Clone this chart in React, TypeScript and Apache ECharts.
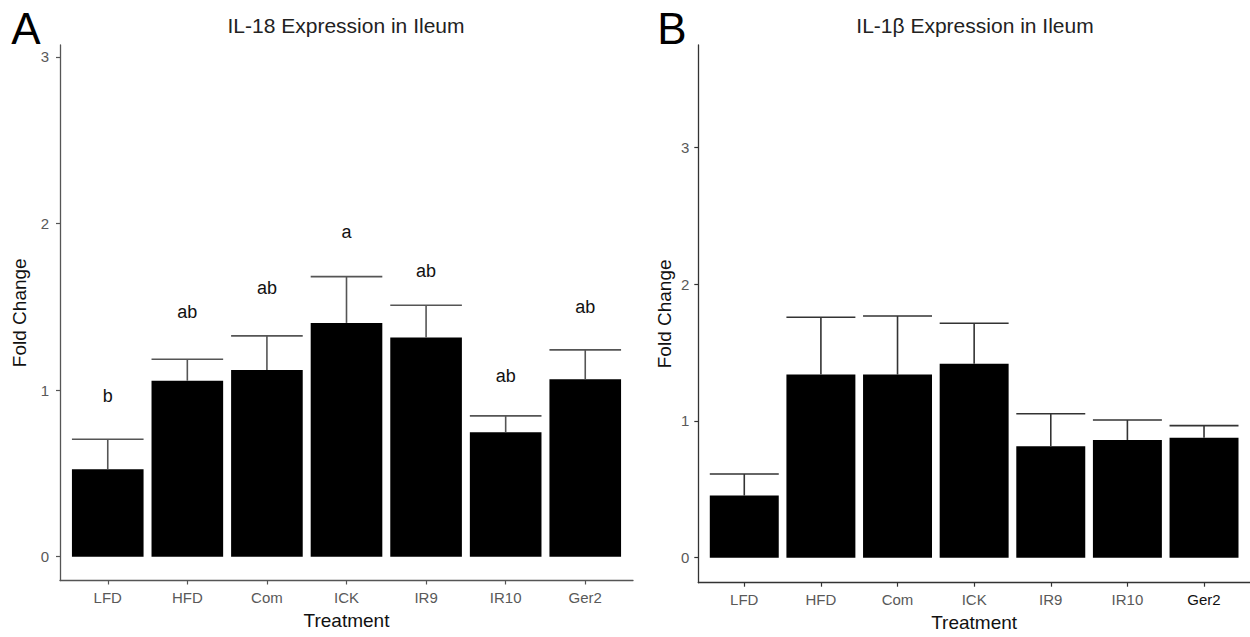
import React, { useEffect, useRef } from "react";
import * as echarts from "echarts";

const categories = ["LFD", "HFD", "Com", "ICK", "IR9", "IR10", "Ger2"];
const il18Mean = [0.525, 1.056, 1.121, 1.403, 1.315, 0.747, 1.065];
const il18Upper = [0.705, 1.185, 1.325, 1.681, 1.509, 0.845, 1.241];
const il18Letters = ["b", "ab", "ab", "a", "ab", "ab", "ab"];
const il18LetterY = [0.965, 1.469, 1.613, 1.949, 1.715, 1.085, 1.499];
const il1bMean = [0.454, 1.339, 1.339, 1.419, 0.815, 0.861, 0.878];
const il1bUpper = [0.612, 1.759, 1.768, 1.715, 1.053, 1.007, 0.966];
const yTicks = [0, 1, 2, 3];
const xPositions = [1, 2, 3, 4, 5, 6, 7];

const FONT = "'Liberation Sans', Arial, sans-serif";

function barRender(lineColor: string) {
  return (params: any, api: any) => {
    const x = api.value(0);
    const m = api.value(1);
    const u = api.value(2);
    const base = api.coord([x, 0]);
    const top = api.coord([x, m]);
    const up = api.coord([x, u]);
    const w = api.size([0.9, 0])[0];
    return {
      type: "group",
      children: [
        {
          type: "rect",
          shape: { x: base[0] - w / 2, y: top[1], width: w, height: base[1] - top[1] },
          style: { fill: "#000" },
        },
        {
          type: "line",
          shape: { x1: top[0], y1: top[1], x2: up[0], y2: up[1] },
          style: { stroke: lineColor, lineWidth: 1.6 },
        },
        {
          type: "line",
          shape: { x1: up[0] - w / 2, y1: up[1], x2: up[0] + w / 2, y2: up[1] },
          style: { stroke: lineColor, lineWidth: 1.6 },
        },
      ],
    };
  };
}

function letterRender(params: any, api: any) {
  const x = api.value(0);
  const y = api.value(1);
  const p = api.coord([x, y]);
  return {
    type: "text",
    x: p[0],
    y: p[1],
    style: {
      text: il18Letters[params.dataIndex],
      fill: "#111",
      font: `18px ${FONT}`,
      align: "center",
      verticalAlign: "middle",
    },
  };
}

function makeXAxis(gridIndex: number, lineColor: string, darkLast: boolean) {
  return {
    type: "value",
    gridIndex,
    min: 0.4,
    max: 7.6,
    name: "Treatment",
    nameLocation: "middle",
    nameGap: 30,
    nameTextStyle: { color: "#111", fontSize: 19, fontFamily: FONT },
    axisLine: { show: true, onZero: false, lineStyle: { color: lineColor, width: 1.3 } },
    axisTick: { show: true, length: 4, customValues: xPositions, lineStyle: { color: lineColor, width: 1.2 } },
    axisLabel: {
      customValues: xPositions,
      margin: 9,
      fontSize: 15,
      fontFamily: FONT,
      color: (v: any) => (darkLast && Number(v) === 7 ? "#111" : "#595959"),
      formatter: (v: number) => categories[Math.round(v) - 1] ?? "",
    },
    splitLine: { show: false },
  };
}

function makeYAxis(gridIndex: number, min: number, max: number, lineColor: string, nameGap: number, margin: number) {
  return {
    type: "value",
    gridIndex,
    min,
    max,
    name: "Fold Change",
    nameLocation: "middle",
    nameRotate: 90,
    nameGap,
    nameTextStyle: { color: "#111", fontSize: 19, fontFamily: FONT },
    axisLine: { show: true, onZero: false, lineStyle: { color: lineColor, width: 1.3 } },
    axisTick: { show: true, length: 4, customValues: yTicks, lineStyle: { color: lineColor, width: 1.2 } },
    axisLabel: {
      customValues: yTicks,
      margin,
      fontSize: 15,
      fontFamily: FONT,
      color: "#595959",
    },
    splitLine: { show: false },
  };
}

export default function App() {
  const ref = useRef<HTMLDivElement>(null);
  useEffect(() => {
    if (!ref.current) return;
    const chart = echarts.init(ref.current, undefined, { renderer: "svg" });
    const dataA = xPositions.map((x, i) => [x, il18Mean[i], il18Upper[i]]);
    const dataB = xPositions.map((x, i) => [x, il1bMean[i], il1bUpper[i]]);
    const lettersA = xPositions.map((x, i) => [x, il18LetterY[i]]);
    chart.setOption({
      animation: false,
      backgroundColor: "#fff",
      textStyle: { fontFamily: FONT },
      grid: [
        { left: 60, top: 45, width: 573, height: 535.5 },
        { left: 698.3, top: 45, width: 553.7, height: 537.7 },
      ],
      xAxis: [makeXAxis(0, "#555", false), makeXAxis(1, "#333", true)],
      yAxis: [makeYAxis(0, -0.143, 3.071, "#555", 31, 11), makeYAxis(1, -0.183, 3.75, "#333", 24, 9)],
      graphic: [
        { type: "text", x: 26, y: 28, style: { text: "A", font: `44px ${FONT}`, fill: "#000", align: "center", verticalAlign: "middle" } },
        { type: "text", x: 672, y: 28, style: { text: "B", font: `44px ${FONT}`, fill: "#000", align: "center", verticalAlign: "middle" } },
        { type: "text", x: 346, y: 25, style: { text: "IL-18 Expression in Ileum", font: `21px ${FONT}`, fill: "#222", align: "center", verticalAlign: "middle" } },
        { type: "text", x: 975, y: 25, style: { text: "IL-1β Expression in Ileum", font: `21px ${FONT}`, fill: "#222", align: "center", verticalAlign: "middle" } },
      ],
      series: [
        { type: "custom", name: "IL-18", xAxisIndex: 0, yAxisIndex: 0, data: dataA, renderItem: barRender("#555"), encode: { x: 0, y: 1 } },
        { type: "custom", name: "IL-18 letters", xAxisIndex: 0, yAxisIndex: 0, data: lettersA, renderItem: letterRender, encode: { x: 0, y: 1 } },
        { type: "custom", name: "IL-1β", xAxisIndex: 1, yAxisIndex: 1, data: dataB, renderItem: barRender("#333"), encode: { x: 0, y: 1 } },
      ],
    });
    return () => chart.dispose();
  }, []);
  return <div ref={ref} style={{ position: "absolute", left: 0, top: 0, width: 1250, height: 637 }} />;
}
